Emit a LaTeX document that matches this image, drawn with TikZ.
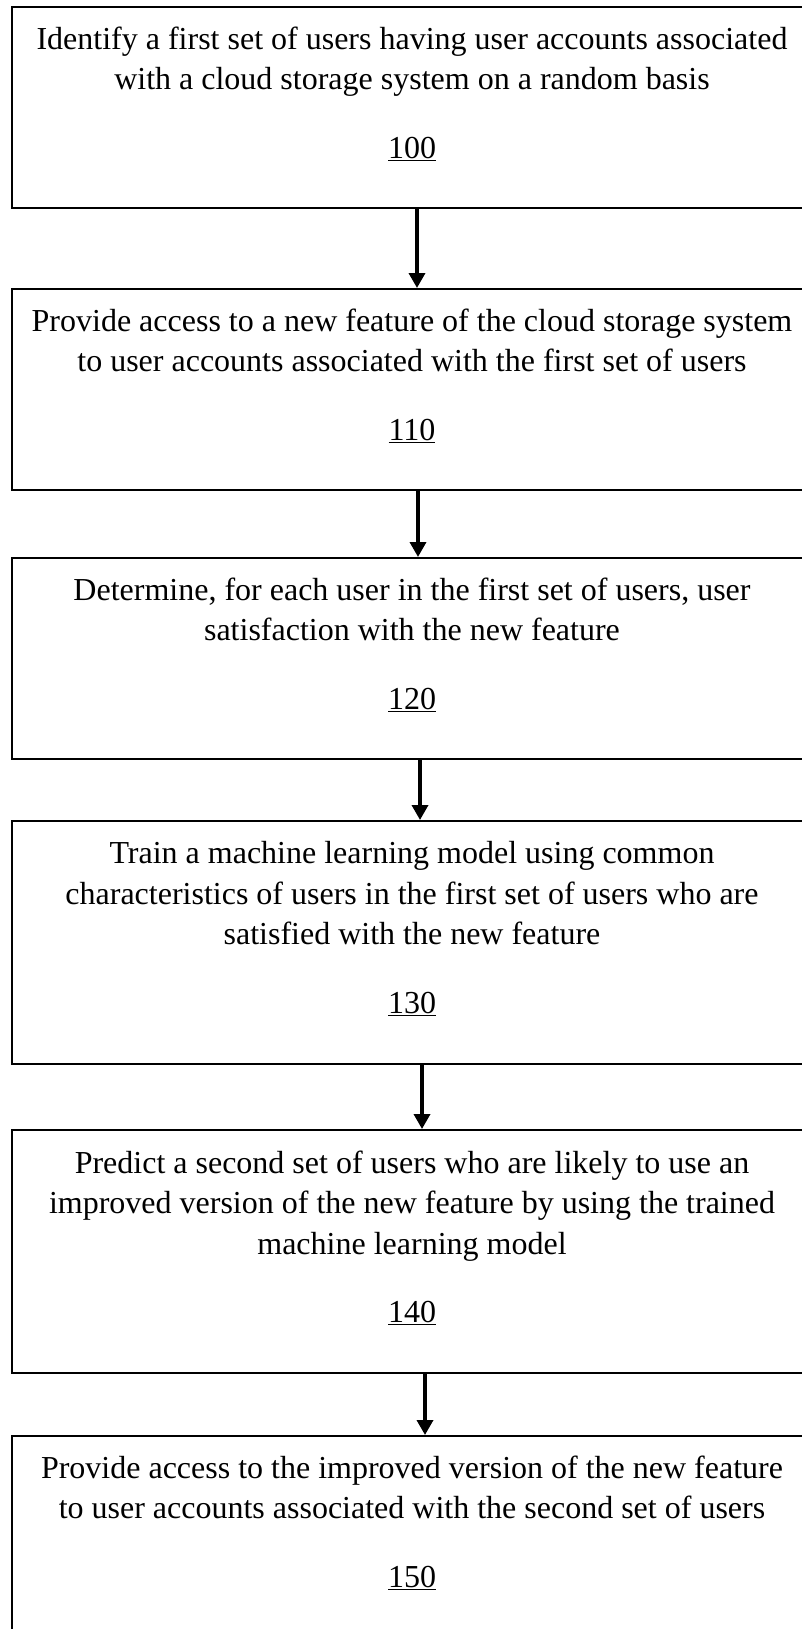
\documentclass[tikz,border=0pt]{standalone}
\usepackage{fontspec}
\setmainfont{Liberation Serif}
\usetikzlibrary{arrows.meta, positioning}

% step number, underlined, with extra depth below
\newcommand{\stepnum}[1]{\underline{#1}\rule[-30pt]{0pt}{0pt}}

\begin{document}
\begin{tikzpicture}[
    box/.style={rectangle, draw, line width=2pt, minimum width=800pt, minimum height=201pt, align=center, font=\fontsize{32}{40.5}\selectfont},
    tallbox/.style={box, minimum height=243pt},
    arrow/.style={-{Triangle[width=16pt,length=15pt]}, line width=3.5pt}
]
\useasboundingbox (0,0) rectangle (802pt,-1629pt);
\clip (0,0) rectangle (802pt,-1629pt);

% Steps
\node[box, anchor=north] (identify) at (412pt,-6pt) {Identify a first set of users having user accounts associated\\with a cloud storage system on a random basis\\[28pt]\stepnum{100}};

\node[box, below=79pt of identify] (access) {Provide access to a new feature of the cloud storage system\\to user accounts associated with the first set of users\\[28pt]\stepnum{110}};

\node[box, below=66pt of access] (satisfy) {Determine, for each user in the first set of users, user\\satisfaction with the new feature\\[28pt]\stepnum{120}};

\node[tallbox, below=60pt of satisfy] (train) {Train a machine learning model using common\\characteristics of users in the first set of users who are\\satisfied with the new feature\\[28pt]\stepnum{130}};

\node[tallbox, below=64pt of train] (predict) {Predict a second set of users who are likely to use an\\improved version of the new feature by using the trained\\machine learning model\\[28pt]\stepnum{140}};

\node[box, below=61pt of predict] (improved) {Provide access to the improved version of the new feature\\to user accounts associated with the second set of users\\[28pt]\stepnum{150}};

% Arrows between steps
\draw[arrow] ([xshift=5pt]identify.south) -- ([xshift=5pt]access.north);
\draw[arrow] ([xshift=6pt]access.south) -- ([xshift=6pt]satisfy.north);
\draw[arrow] ([xshift=8pt]satisfy.south) -- ([xshift=8pt]train.north);
\draw[arrow] ([xshift=10pt]train.south) -- ([xshift=10pt]predict.north);
\draw[arrow] ([xshift=13pt]predict.south) -- ([xshift=13pt]improved.north);

\end{tikzpicture}
\end{document}
